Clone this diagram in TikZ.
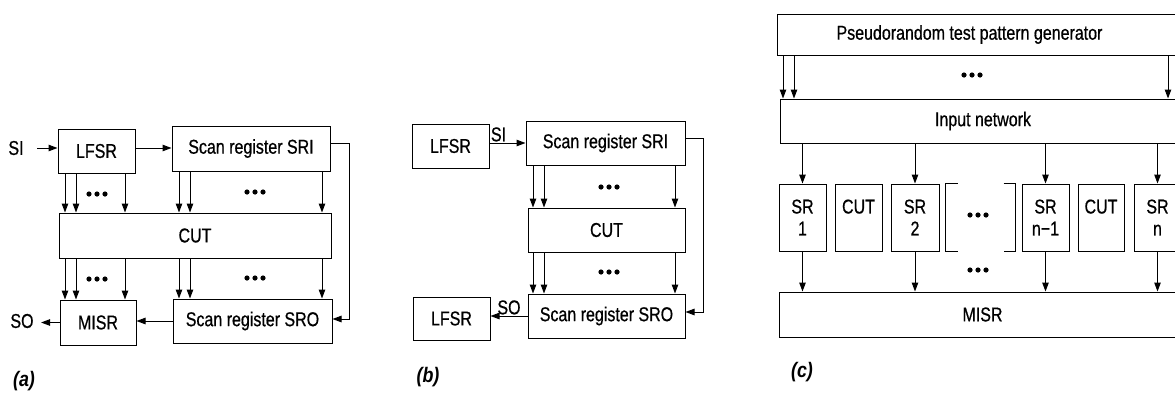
\documentclass[tikz,border=0pt]{standalone}
\usepackage{fontspec}
\setmainfont{Liberation Sans}[FakeStretch=0.8, FakeBold=0.6]
\newfontfamily\labfont{Liberation Sans}[FakeStretch=0.85]
\usetikzlibrary{arrows.meta,calc}
\newcommand\bx[6]{\node[box, minimum width={(#4)-(#2)}, minimum height={(#5)-(#3)}] (#1) at ({((#2)+(#4))/2},{((#3)+(#5))/2}) {#6};}
\newcommand\va[3]{\draw[arr] (#1,0 |- #2.south) -- (#1,0 |- #3.north);}
\begin{document}
\begin{tikzpicture}[x=1pt,y=-1pt, line width=1pt,
 box/.style={draw, inner sep=0pt, font=\fontsize{20}{22}\selectfont, align=center},
 arr/.style={-{Triangle[length=9pt,width=6.5pt]}},
 lbl/.style={font=\fontsize{20}{22}\selectfont, inner sep=1pt},
 sublbl/.style={font=\labfont\fontsize{21}{22}\selectfont\bfseries\itshape},
 tridots/.pic={\fill (-8,0) circle (2.6) (0,0) circle (2.6) (8,0) circle (2.6);}
]
\useasboundingbox (0,0) rectangle (1175,394);
\clip (0,0) rectangle (1175,394);
\fill[white] (0,0) rectangle (1175,394);

% ---------- (a)
\bx{LFSRa}{58}{129}{135}{173}{LFSR}
\bx{SRIa}{172}{126}{330}{171}{Scan register SRI}
\bx{CUTa}{59}{213}{331}{258}{CUT}
\bx{MISRa}{60}{300}{136}{345}{MISR}
\bx{SROa}{173}{299}{332}{343}{Scan register SRO}
\node[lbl] (SIa) at (16,148) {SI};
\node[lbl] (SOa) at (22,321) {SO};
\draw[arr, shorten <=12pt] (SIa.east) -- (SIa.east -| LFSRa.west);
\draw[arr] ([yshift=3pt]LFSRa.east) -- ([yshift=3pt]LFSRa.east -| SRIa.west);
\draw[arr] ([yshift=5pt]SRIa.east) -- ++(19,0) |- ([yshift=2pt]SROa.east);
\draw[arr] (SROa.west) -- (SROa.west -| MISRa.east);
\draw[arr, shorten >=6pt] (MISRa.west) -- (MISRa.west -| SOa.east);
\foreach \x in {65,76,125} {\va{\x}{LFSRa}{CUTa}\va{\x}{CUTa}{MISRa}}
\foreach \x in {179,190,322} {\va{\x}{SRIa}{CUTa}\va{\x}{CUTa}{SROa}}
\pic at (97,194) {tridots};
\pic at (255,192) {tridots};
\pic at (97,279) {tridots};
\pic at (255,278) {tridots};
\node[sublbl] (la) at (24,381) {(a)};

% ---------- (b)
\bx{LFSRb}{412}{124}{489}{168}{LFSR}
\bx{SRIb}{526}{121}{685}{165}{Scan register SRI}
\bx{CUTb}{528}{208}{685}{252}{CUT}
\bx{SROb}{528}{294}{685}{338}{Scan register SRO}
\bx{LFSRbb}{413}{297}{490}{340}{LFSR}
\draw[arr] ([yshift=3pt]LFSRb.east) -- node[lbl, above, pos=0.25] (SIb) {SI} ([yshift=3pt]LFSRb.east -| SRIb.west);
\draw[arr] (SROb.west) -- node[lbl, above, pos=0.5] (SOb) {SO} (SROb.west -| LFSRbb.east);
\draw[arr] ([yshift=5pt]SRIb.east) -- ++(18,0) |- ([yshift=4pt]SROb.east);
\foreach \x in {533,544,675} {\va{\x}{SRIb}{CUTb}\va{\x}{CUTb}{SROb}}
\pic at (609,187) {tridots};
\pic at (609,272) {tridots};
\node[sublbl] (lb) at (428,377) {(b)};

% ---------- (c)
\bx{PTPG}{777}{14}{1186}{55}{Pseudorandom test pattern generator\hspace{24pt}}
\bx{INN}{780}{99}{1186}{143}{Input network}
\bx{MISRc}{779}{292}{1186}{337}{MISR}
\bx{SRa}{779}{184}{826}{251}{SR\\1}
\bx{CUTc}{835}{184}{882}{251}{CUT\\\mbox{}}
\bx{SRb}{891}{184}{939}{251}{SR\\2}
\bx{SRc}{1022}{184}{1069}{251}{SR\\n−1}
\bx{CUTd}{1078}{184}{1124}{251}{CUT\\\mbox{}}
\bx{SRd}{1134}{184}{1181}{251}{SR\\n}
\node[inner sep=0pt, minimum width=69, minimum height=67] (BR) at (980.5,217.5) {};
\draw ([xshift=12pt]BR.north west) -- (BR.north west) -- (BR.south west) -- ([xshift=12pt]BR.south west);
\draw ([xshift=-12pt]BR.north east) -- (BR.north east) -- (BR.south east) -- ([xshift=-12pt]BR.south east);
\foreach \x in {783,794,1168} {\va{\x}{PTPG}{INN}}
\foreach \n in {SRa,SRb,SRc,SRd} {
  \draw[arr] (INN.south -| \n.north) -- (\n.north);
  \draw[arr] (\n.south) -- (\n.south |- MISRc.north);
}
\pic at (972,75) {tridots};
\pic at (978,215) {tridots};
\pic at (978,270) {tridots};
\node[sublbl] (lc) at (802,372) {(c)};
\end{tikzpicture}
\end{document}
